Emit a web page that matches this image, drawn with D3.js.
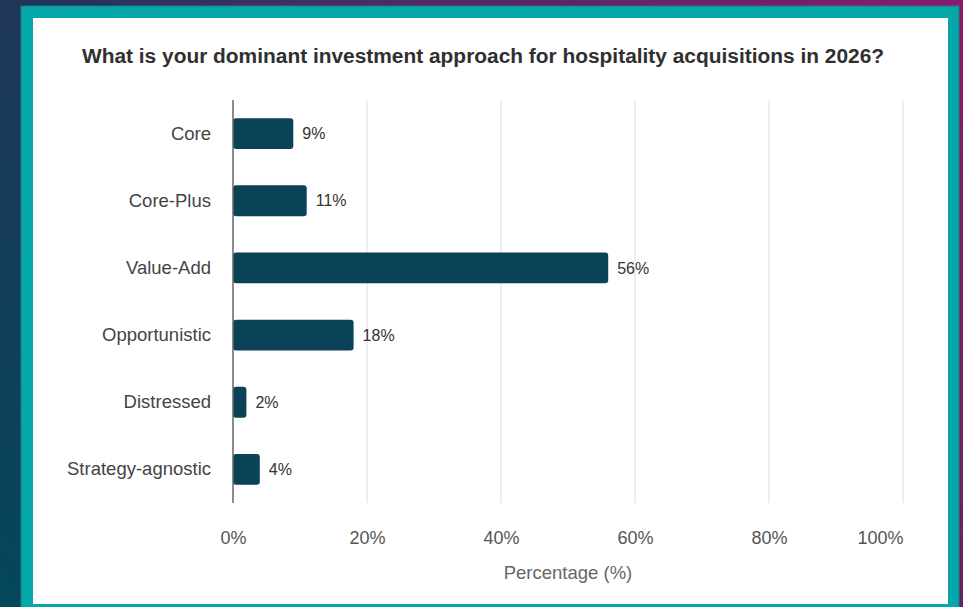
<!DOCTYPE html>
<html>
<head>
<meta charset="utf-8">
<script src="https://cdn.jsdelivr.net/npm/d3@7"></script>
<style>
  html, body { margin: 0; padding: 0; background: #1d3556; }
  svg { display: block; }
  text { font-family: "Liberation Sans", Arial, Helvetica, sans-serif; }
</style>
</head>
<body>
<svg id="chart" width="963" height="607"></svg>
<script>
// Survey responses: dominant investment approach for hospitality acquisitions
const categories = ["Core", "Core-Plus", "Value-Add", "Opportunistic", "Distressed", "Strategy-agnostic"];
const shares = [9, 11, 56, 18, 2, 4];
const xTicks = [0, 20, 40, 60, 80, 100];
const title = "What is your dominant investment approach for hospitality acquisitions in 2026?";
const xAxisTitle = "Percentage (%)";

const W = 963, H = 607;
const svg = d3.select("#chart");

// Backdrop gradient: teal-navy bottom-left, navy, purple top-right
const defs = svg.append("defs");
const bg = defs.append("linearGradient")
  .attr("id", "bg").attr("gradientUnits", "userSpaceOnUse")
  .attr("x1", 0).attr("y1", H).attr("x2", W).attr("y2", 0);
bg.append("stop").attr("offset", 0).attr("stop-color", "#03475a");
bg.append("stop").attr("offset", 0.3).attr("stop-color", "#1f355a");
bg.append("stop").attr("offset", 0.55).attr("stop-color", "#4a2c60");
bg.append("stop").attr("offset", 1).attr("stop-color", "#8a1870");
svg.append("rect").attr("width", W).attr("height", H).attr("fill", "url(#bg)");

// Teal frame and white card
svg.append("rect").attr("x", 21).attr("y", 6).attr("width", 938).attr("height", 610)
  .attr("fill", "#05a7a9").attr("stroke", "#1b7f8f").attr("stroke-width", 1);
svg.append("rect").attr("x", 33).attr("y", 18).attr("width", 915).attr("height", 586)
  .attr("fill", "#ffffff");

// Plot area
const x = d3.scaleLinear().domain([0, 100]).range([233, 903]);
const y = d3.scaleBand().domain(categories).range([100, 503]).paddingInner(0.54).paddingOuter(0.27);

// Title
svg.append("text")
  .attr("x", 483).attr("y", 63)
  .attr("text-anchor", "middle")
  .attr("font-size", 20.9).attr("font-weight", "bold")
  .attr("fill", "#303030")
  .text(title);

// Vertical gridlines
svg.append("g").selectAll("line")
  .data(xTicks.filter(d => d > 0))
  .join("line")
  .attr("x1", d => x(d)).attr("x2", d => x(d))
  .attr("y1", 100).attr("y2", 503)
  .attr("stroke", "#e3e3e3").attr("stroke-width", 1.2);

// X axis tick labels (last one kept inside the plot edge)
const xAxis = d3.axisBottom(x).tickValues(xTicks).tickFormat(d => d + "%").tickSize(0).tickPadding(0);
const gx = svg.append("g").attr("transform", "translate(0,531)").call(xAxis);
gx.select(".domain").remove();
gx.selectAll("text").attr("font-size", 18).attr("fill", "#555555")
  .attr("font-family", "Liberation Sans, Arial, sans-serif")
  .attr("text-anchor", d => d === 100 ? "end" : "middle");

// Axis title
svg.append("text")
  .attr("x", 568).attr("y", 579)
  .attr("text-anchor", "middle")
  .attr("font-size", 18.5).attr("fill", "#666666")
  .text(xAxisTitle);

// Category labels
const yAxis = d3.axisLeft(y).tickSize(0).tickPadding(22);
const gy = svg.append("g").attr("transform", `translate(${x(0)},0)`).call(yAxis);
gy.select(".domain").remove();
gy.selectAll("text").attr("font-size", 18.5).attr("fill", "#444444")
  .attr("font-family", "Liberation Sans, Arial, sans-serif");

// Bars
svg.append("g").selectAll("rect")
  .data(categories)
  .join("rect")
  .attr("x", x(0))
  .attr("y", d => y(d))
  .attr("width", (d, i) => x(shares[i]) - x(0))
  .attr("height", y.bandwidth())
  .attr("rx", 3).attr("ry", 3)
  .attr("fill", "#0a4257");

// Value labels
svg.append("g").selectAll("text")
  .data(categories)
  .join("text")
  .attr("x", (d, i) => x(shares[i]) + 9)
  .attr("y", d => y(d) + y.bandwidth() / 2)
  .attr("dy", "0.35em")
  .attr("font-size", 16).attr("fill", "#333333")
  .text((d, i) => shares[i] + "%");

// Zero baseline
svg.append("line")
  .attr("x1", x(0)).attr("x2", x(0))
  .attr("y1", 100).attr("y2", 503)
  .attr("stroke", "#666666").attr("stroke-width", 1.5);
</script>
</body>
</html>
